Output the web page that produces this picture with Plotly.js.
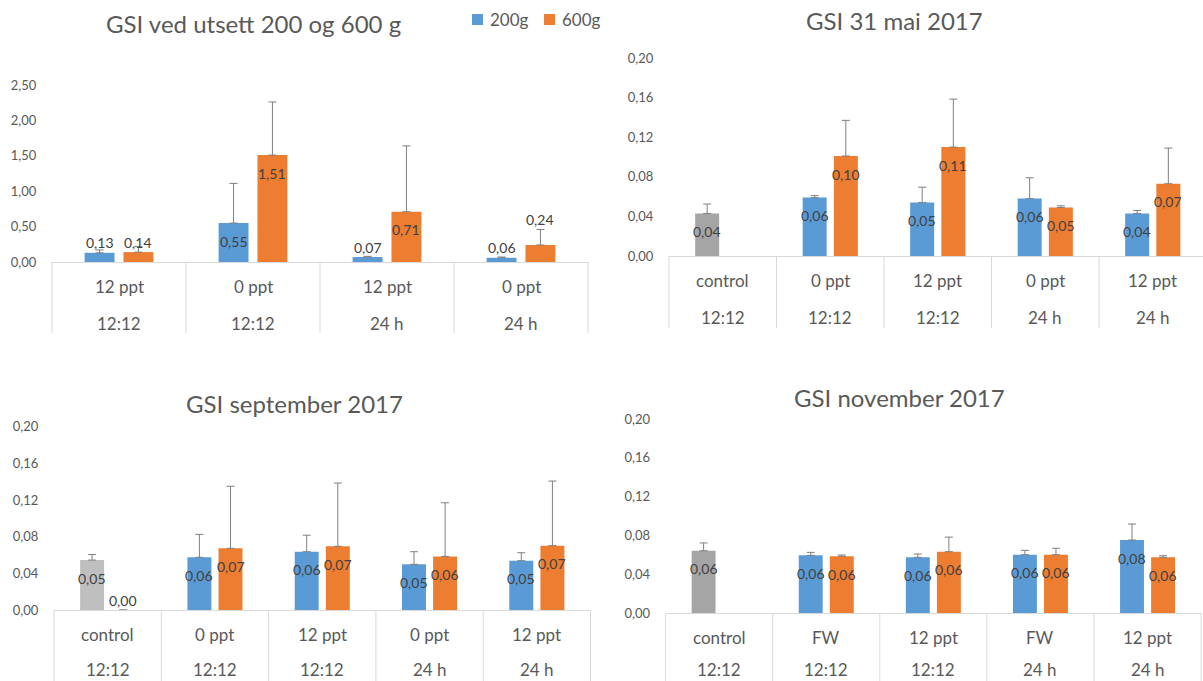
<!DOCTYPE html>
<html><head><meta charset="utf-8">
<script src="https://cdn.plot.ly/plotly-3.0.1.min.js"></script>
<style>html,body{margin:0;padding:0;overflow:hidden;background:#fff}#chart{width:1203px;height:681px}</style>
</head><body><div id="chart"></div>
<script>
// ---------- DATA ----------
// Panel 1: GSI ved utsett 200 og 600 g
const p1Title = 'GSI ved utsett 200 og 600 g';
const p1Cat = ['12 ppt', '0 ppt', '12 ppt', '0 ppt'];
const p1Sub = ['12:12', '12:12', '24 h', '24 h'];
const p1Blue = [0.13, 0.55, 0.07, 0.06];
const p1BlueErr = [0.04, 0.56, 0.01, 0.01];
const p1Orange = [0.14, 1.51, 0.71, 0.24];
const p1OrangeErr = [0.08, 0.75, 0.93, 0.22];

// Panel 2: GSI 31 mai 2017 (first value of the 200g series is the control)
const p2Title = 'GSI 31 mai 2017';
const p2Cat = ['control', '0 ppt', '12 ppt', '0 ppt', '12 ppt'];
const p2Sub = ['12:12', '12:12', '12:12', '24 h', '24 h'];
const p2Blue = [0.043, 0.059, 0.054, 0.058, 0.043];
const p2BlueErr = [0.0095, 0.002, 0.0155, 0.021, 0.003];
const p2Orange = [null, 0.101, 0.110, 0.049, 0.073];
const p2OrangeErr = [null, 0.036, 0.0485, 0.0017, 0.036];

// Panel 3: GSI september 2017
const p3Title = 'GSI september 2017';
const p3Cat = ['control', '0 ppt', '12 ppt', '0 ppt', '12 ppt'];
const p3Sub = ['12:12', '12:12', '12:12', '24 h', '24 h'];
const p3Blue = [0.0545, 0.0575, 0.0636, 0.0498, 0.0538];
const p3BlueErr = [0.006, 0.025, 0.018, 0.0138, 0.0087];
const p3Orange = [0, 0.0673, 0.0695, 0.0585, 0.0702];
const p3OrangeErr = [0, 0.0677, 0.069, 0.0585, 0.0705];

// Panel 4: GSI november 2017
const p4Title = 'GSI november 2017';
const p4Cat = ['control', 'FW', '12 ppt', 'FW', '12 ppt'];
const p4Sub = ['12:12', '12:12', '12:12', '24 h', '24 h'];
const p4Blue = [0.0644, 0.0597, 0.0576, 0.0603, 0.0754];
const p4BlueErr = [0.008, 0.003, 0.0034, 0.0045, 0.0165];
const p4Orange = [null, 0.0587, 0.0634, 0.0603, 0.0576];
const p4OrangeErr = [null, 0.0013, 0.015, 0.0066, 0.0017];

const seriesNames = ['200g', '600g'];

// ---------- STYLE / LAYOUT ----------
const W = 1203, H = 681;
const FONT = 'Lato, "Open Sans", sans-serif';
const BLUE = '#5B9BD5', ORANGE = '#ED7D31';
const TXT = '#595959', LBL = '#404040', LINE = '#D9D9D9', ERR = '#7F7F7F';
const BARGAP = 0.42, BARGROUPGAP = 0.23;
const OFF = (1 - BARGAP) / 4;

const panels = [
  {title: p1Title, cat: p1Cat, sub: p1Sub, blue: p1Blue, blueErr: p1BlueErr, orange: p1Orange, orangeErr: p1OrangeErr,
   control: null, x0: 52, catW: 134, xEnd: null, yZero: 262, yTop: 85, yMax: 2.5, dtick: 0.5, bottom: 333, tx: 254, ty: 23},
  {title: p2Title, cat: p2Cat, sub: p2Sub, blue: p2Blue, blueErr: p2BlueErr, orange: p2Orange, orangeErr: p2OrangeErr,
   control: '#A5A5A5', x0: 669, catW: 107.5, xEnd: 1203, yZero: 256, yTop: 58, yMax: 0.2, dtick: 0.04, bottom: 328, tx: 894, ty: 20},
  {title: p3Title, cat: p3Cat, sub: p3Sub, blue: p3Blue, blueErr: p3BlueErr, orange: p3Orange, orangeErr: p3OrangeErr,
   control: '#BFBFBF', x0: 54, catW: 107.3, xEnd: null, yZero: 610, yTop: 426.7, yMax: 0.2, dtick: 0.04, bottom: 681, tx: 294, ty: 404},
  {title: p4Title, cat: p4Cat, sub: p4Sub, blue: p4Blue, blueErr: p4BlueErr, orange: p4Orange, orangeErr: p4OrangeErr,
   control: '#A5A5A5', x0: 665.6, catW: 107.1, xEnd: null, yZero: 613.3, yTop: 419, yMax: 0.2, dtick: 0.04, bottom: 681, tx: 899, ty: 397}
];

// legend entries (swatch left x, text left x) in picture pixels, centre line y
const legendItems = [
  {name: seriesNames[0], color: BLUE, sx: 472, tx: 488},
  {name: seriesNames[1], color: ORANGE, sx: 544, tx: 560}
];
const legendY = 19.5, swatch = 11;

const fmt = v => v.toFixed(2).replace('.', ',');
const traces = [];
const layout = {
  width: W, height: H, margin: {l: 0, r: 0, t: 0, b: 0},
  paper_bgcolor: '#fff', plot_bgcolor: '#fff',
  font: {family: FONT, color: TXT},
  separators: ', ',
  barmode: 'group', bargap: BARGAP, bargroupgap: BARGROUPGAP,
  showlegend: false,
  annotations: [], shapes: []
};

panels.forEach((p, k) => {
  const n = p.cat.length;
  const idx = p.cat.map((_, i) => i);
  const sfx = k === 0 ? '' : String(k + 1);
  const xa = 'x' + sfx, ya = 'y' + sfx;
  const xEnd = p.xEnd !== null ? p.xEnd : p.x0 + n * p.catW;
  const r0 = -0.5, r1 = -0.5 + (xEnd - p.x0) / p.catW;
  const dx = [p.x0 / W, xEnd / W];
  const dy = [1 - p.yZero / H, 1 - p.yTop / H];
  const pxPerUnit = (p.yZero - p.yTop) / p.yMax;

  layout['xaxis' + sfx] = {domain: dx, range: [r0, r1], anchor: ya, showticklabels: false, showgrid: false,
    zeroline: false, showline: true, linecolor: LINE, linewidth: 1, ticks: '', fixedrange: true};
  layout['yaxis' + sfx] = {domain: dy, range: [0, p.yMax], anchor: xa, dtick: p.dtick, tick0: 0, tickformat: '.2f',
    showgrid: false, zeroline: false, showline: false, ticks: 'outside', ticklen: 12, tickcolor: 'rgba(0,0,0,0)',
    tickfont: {size: 13, color: TXT, family: FONT}, fixedrange: true};

  const blueColors = p.blue.map((_, i) => (i === 0 && p.control) ? p.control : BLUE);
  traces.push({type: 'bar', x: idx, y: p.blue, xaxis: xa, yaxis: ya, name: seriesNames[0],
    marker: {color: blueColors}, hoverinfo: 'skip',
    error_y: {type: 'data', symmetric: false, array: p.blueErr, arrayminus: p.blueErr.map(() => 0),
              color: ERR, thickness: 1, width: 4}});
  traces.push({type: 'bar', x: idx, y: p.orange, xaxis: xa, yaxis: ya, name: seriesNames[1],
    marker: {color: ORANGE}, hoverinfo: 'skip',
    error_y: {type: 'data', symmetric: false, array: p.orangeErr, arrayminus: p.orangeErr.map(() => 0),
              color: ERR, thickness: 1, width: 4}});

  // data labels
  [[p.blue, p.blueErr, -OFF], [p.orange, p.orangeErr, OFF]].forEach(([vals, errs, o]) => {
    vals.forEach((v, i) => {
      if (v === null || v === undefined) return;
      const h = v * pxPerUnit;
      let y = v, shift;
      if (h >= 30) { shift = -18; }
      else {
        const e = errs[i] || 0;
        if (e * pxPerUnit > 15) y = v + e;
        shift = 10;
      }
      layout.annotations.push({xref: xa, yref: ya, x: i + o, y: y, yshift: shift, text: fmt(v), showarrow: false,
        xanchor: 'center', yanchor: 'middle', font: {size: 14, color: LBL, family: FONT}});
    });
  });

  // category labels (two rows), kept inside the picture
  const axY = dy[0];
  const row1 = 24.5;
  const row2 = Math.min(61, (H - 12) - p.yZero);
  idx.forEach(i => {
    layout.annotations.push({xref: xa, yref: 'paper', x: i, y: axY, yshift: -row1, text: p.cat[i], showarrow: false,
      xanchor: 'center', yanchor: 'middle', font: {size: 17, color: TXT, family: FONT}});
    layout.annotations.push({xref: xa, yref: 'paper', x: i, y: axY, yshift: -row2, text: p.sub[i], showarrow: false,
      xanchor: 'center', yanchor: 'middle', font: {size: 17, color: TXT, family: FONT}});
  });

  // category divider lines
  for (let b = 0; b <= n; b++) {
    const xv = b - 0.5;
    const xp = dx[0] + (xv - r0) / (r1 - r0) * (dx[1] - dx[0]);
    if (xp > 1.001) continue;
    layout.shapes.push({type: 'line', xref: 'paper', yref: 'paper', x0: xp, x1: xp, y0: axY, y1: 1 - p.bottom / H,
      line: {color: LINE, width: 1}});
  }

  // title
  layout.annotations.push({xref: 'paper', yref: 'paper', x: p.tx / W, y: 1 - p.ty / H, text: p.title, showarrow: false,
    xanchor: 'center', yanchor: 'middle', font: {size: 24, color: TXT, family: FONT}});
});

// legend (series key for panel 1)
legendItems.forEach(it => {
  layout.shapes.push({type: 'rect', xref: 'paper', yref: 'paper', x0: it.sx / W, x1: (it.sx + swatch) / W,
    y0: 1 - (legendY + swatch / 2) / H, y1: 1 - (legendY - swatch / 2) / H, fillcolor: it.color, line: {width: 0}});
  layout.annotations.push({xref: 'paper', yref: 'paper', x: it.tx / W, y: 1 - legendY / H, text: it.name, showarrow: false,
    xanchor: 'left', yanchor: 'middle', font: {size: 17, color: TXT, family: FONT}});
});

Plotly.newPlot('chart', traces, layout, {displayModeBar: false, staticPlot: true});
</script>
</body></html>
